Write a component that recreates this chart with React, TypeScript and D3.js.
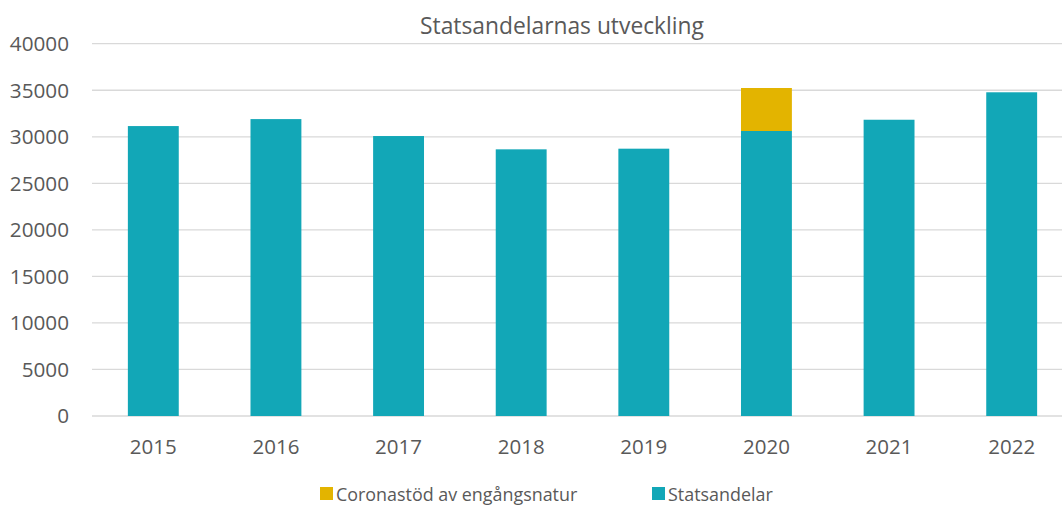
import React from "react";
import * as d3 from "d3";

const categories = ["2015", "2016", "2017", "2018", "2019", "2020", "2021", "2022"];
const statsandelar = [31150, 31900, 30080, 28650, 28720, 30620, 31830, 34780];
const corona = [0, 0, 0, 0, 0, 4620, 0, 0];
const yTicks = [0, 5000, 10000, 15000, 20000, 25000, 30000, 35000, 40000];
const seriesNames = ["Coronastöd av engångsnatur", "Statsandelar"];
const colors = ["#E3B400", "#12A7B7"];

const W = 1062;
const H = 505;
const FONT = "'Open Sans', sans-serif";
const TEXT = "#595959";

export default function App() {
  const x = d3.scaleBand<string>().domain(categories).range([92, 1073]).paddingInner(0.585).paddingOuter(0.2925);
  const y = d3.scaleLinear().domain([0, 40000]).range([416, 43.7]);
  const stackData = categories.map((c, i) => ({ cat: c, stat: statsandelar[i], corona: corona[i] }));
  const stack = d3.stack<any>().keys(["stat", "corona"])(stackData);
  const keyColor: Record<string, string> = { stat: colors[1], corona: colors[0] };

  return (
    <svg width={W} height={H} style={{ position: "absolute", left: 0, top: 0, fontFamily: FONT }}>
      <rect width={W} height={H} fill="#fff" />
      <text x={562} y={34} textAnchor="middle" fontSize={22.8} fill={TEXT}>Statsandelarnas utveckling</text>
      {yTicks.map((t) => (
        <g key={t}>
          <line x1={92} x2={W} y1={y(t)} y2={y(t)} stroke="#D9D9D9" strokeWidth={1.3} />
          <text x={69} y={y(t)} dy="0.36em" textAnchor="end" fontSize={20.7} fill={TEXT}>{t}</text>
        </g>
      ))}
      {stack.map((s) => (
        <g key={s.key} fill={keyColor[s.key]}>
          {s.map((d, i) =>
            d[1] - d[0] > 0 ? (
              <rect key={i} x={x(categories[i])} width={x.bandwidth()} y={y(d[1])} height={y(d[0]) - y(d[1])} />
            ) : null
          )}
        </g>
      ))}
      {categories.map((c) => (
        <text key={c} x={(x(c) as number) + x.bandwidth() / 2} y={454} textAnchor="middle" fontSize={20.5} fill={TEXT}>{c}</text>
      ))}
      <g>
        <rect x={320} y={487} width={13} height={13} fill={colors[0]} />
        <text x={336} y={501} fontSize={17.9} fill={TEXT}>{seriesNames[0]}</text>
        <rect x={652} y={487} width={13} height={13} fill={colors[1]} />
        <text x={668} y={501} fontSize={17.9} fill={TEXT}>{seriesNames[1]}</text>
      </g>
    </svg>
  );
}
